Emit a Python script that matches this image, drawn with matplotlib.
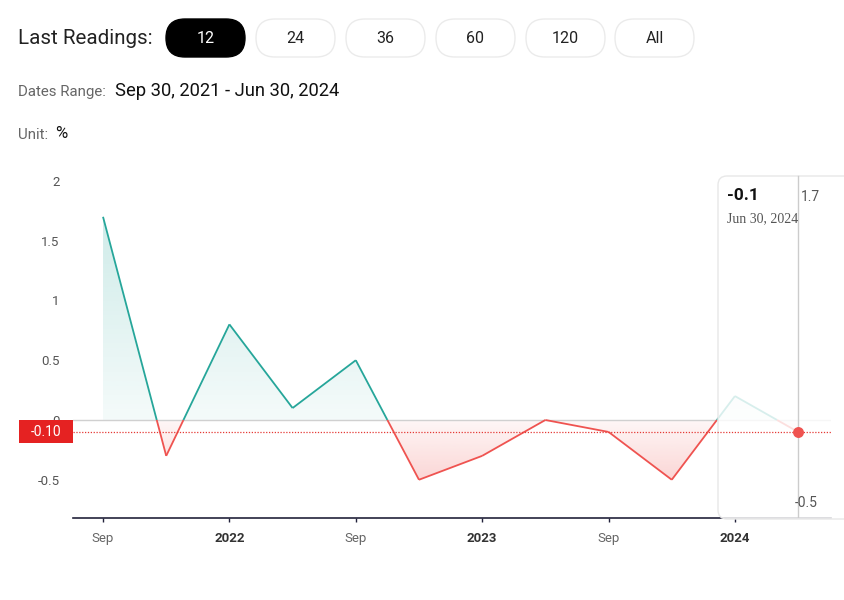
import matplotlib

matplotlib.use("Agg")
import matplotlib.pyplot as plt
import matplotlib.transforms as mtransforms
import numpy as np
from matplotlib.collections import LineCollection
from matplotlib.patches import FancyBboxPatch, Polygon, Rectangle

# Datos (lecturas trimestrales, %)
dates = ["Sep 30, 2021", "Dec 31, 2021", "Mar 31, 2022", "Jun 30, 2022",
         "Sep 30, 2022", "Dec 31, 2022", "Mar 31, 2023", "Jun 30, 2023",
         "Sep 30, 2023", "Dec 31, 2023", "Mar 31, 2024", "Jun 30, 2024"]
values = [1.7, -0.3, 0.8, 0.1, 0.5, -0.5, -0.3, 0.0, -0.1, -0.5, 0.2, -0.1]
tick_pos = [0, 2, 4, 6, 8, 10]
tick_labels = ["Sep", "2022", "Sep", "2023", "Sep", "2024"]
y_ticks = [-0.5, 0, 0.5, 1, 1.5, 2]
buttons = ["12", "24", "36", "60", "120", "All"]

GREEN = "#26a69a"
RED = "#ef5350"
W, H = 845, 600

plt.rcParams["font.family"] = ["Roboto", "DejaVu Sans"]

fig = plt.figure(figsize=(W / 100, H / 100), dpi=100, facecolor="white")

# capa de decoración en coordenadas de píxel
deco = fig.add_axes([0, 0, 1, 1], zorder=0)
deco.set_xlim(0, W)
deco.set_ylim(H, 0)
deco.axis("off")

# cabecera
deco.text(18, 38, "Last Readings:", fontsize=14.8, color="#222", va="center", ha="left")
for i, lab in enumerate(buttons):
    x0 = [166, 256, 346, 436, 526, 615][i]
    active = i == 0
    deco.add_patch(FancyBboxPatch((x0, 19), 79, 38,
                                  boxstyle="round,pad=0,rounding_size=19",
                                  fc="black" if active else "white",
                                  ec="black" if active else "#ebebeb", lw=1))
    deco.text(x0 + 39.5, 38.5, lab, fontsize=11.5, ha="center", va="center",
              color="white" if active else "#222")

deco.text(18, 92, "Dates Range:", fontsize=10.8, color="#666", va="center")
deco.text(115, 91, f"{dates[0]} - {dates[-1]}", fontsize=13.2, color="#111", va="center")
deco.text(18, 135, "Unit:", fontsize=10.8, color="#666", va="center")
deco.text(55, 134, "%", fontsize=12, color="#111", va="center")

# ejes principales
left, right, top, bottom = 73, 831, 169, 518
ax = fig.add_axes([left / W, 1 - bottom / H, (right - left) / W, (bottom - top) / H], zorder=1)
ax.patch.set_visible(False)

n = len(values)
xs, ys = [0.0], [values[0]]
for i in range(1, n):
    y0, y1 = values[i - 1], values[i]
    if y0 * y1 < 0:
        xs.append(i - 1 + y0 / (y0 - y1))
        ys.append(0.0)
    xs.append(float(i))
    ys.append(y1)
xs = np.array(xs)
ys = np.array(ys)

# relleno con degradado
def gradient_fill(yclip, color, a_far, a_near, ymin, ymax, far_top):
    verts = list(zip(xs, yclip)) + [(xs[-1], 0), (xs[0], 0)]
    poly = Polygon(verts, closed=True, fc="none", ec="none")
    ax.add_patch(poly)
    rgb = matplotlib.colors.to_rgb(color)
    t = np.linspace(0, 1, 256)[:, None]
    alpha = a_near + (a_far - a_near) * (t if far_top else 1 - t)
    img = np.zeros((256, 1, 4))
    img[..., :3] = rgb
    img[..., 3] = alpha
    im = ax.imshow(img, extent=[xs[0], xs[-1], ymin, ymax], origin="lower",
                   aspect="auto", zorder=1, interpolation="bilinear")
    im.set_clip_path(poly)

gradient_fill(np.maximum(ys, 0), GREEN, 0.22, 0.05, 0, max(values), True)
gradient_fill(np.minimum(ys, 0), RED, 0.24, 0.05, min(values), 0, False)

segs, cols = [], []
for j in range(len(xs) - 1):
    segs.append([(xs[j], ys[j]), (xs[j + 1], ys[j + 1])])
    cols.append(GREEN if (ys[j] + ys[j + 1]) / 2 >= 0 else RED)
ax.add_collection(LineCollection(segs, colors=cols, linewidths=1.3, zorder=2))

ax.axhline(0, color="#d0d0d0", lw=1, zorder=1.5)

ax.set_xlim(-0.475, 11.52)
ax.set_ylim(-0.82, 2.10)

for s in ["top", "right", "left"]:
    ax.spines[s].set_visible(False)
ax.spines["bottom"].set_color("#22223b")
ax.spines["bottom"].set_linewidth(1.2)

ax.set_yticks(y_ticks)
ax.set_yticklabels([f"{v:g}" for v in y_ticks])
ax.tick_params(axis="y", length=0, pad=9.5, labelsize=9.5, labelcolor="#555")
ax.set_xticks(tick_pos)
ax.set_xticklabels(tick_labels)
ax.tick_params(axis="x", length=3, width=1, color="#22223b", pad=7, labelsize=9.5)
for lab in ax.get_xticklabels():
    if lab.get_text().isdigit():
        lab.set_fontweight("bold")
        lab.set_color("#333")
    else:
        lab.set_color("#666")

# tooltip
tip = FancyBboxPatch((718, 176), 150, 343, boxstyle="round,pad=0,rounding_size=9",
                     fc=(1, 1, 1, 0.82), ec="#e8e8e8", lw=1, transform=deco.transData,
                     zorder=3)
tip.set_clip_on(False)
ax.add_artist(tip)
ax.axvline(n - 1, ymin=0, ymax=(bottom - 176) / (bottom - top), color="#cccccc", lw=1, zorder=4)

last = values[-1]
ax.axhline(last, color="#e53935", lw=0.9, ls=(0, (1, 1.3)), zorder=5)
ax.scatter([n - 1], [last], s=62, color=RED, zorder=6, clip_on=False, linewidths=0)

ax.text(727, 196, f"{last:g}", fontsize=12.5, fontweight="bold", color="#111",
        va="center", ha="left", transform=deco.transData, zorder=7)
ax.text(801, 197, f"{max(values):g}", fontsize=10, color="#555",
        va="center", ha="left", transform=deco.transData, zorder=7)
ax.text(727, 219, dates[-1], fontsize=10, color="#555", family="Liberation Serif",
        va="center", ha="left", transform=deco.transData, zorder=7)
ax.text(818, 503, f"{min(values):g}", fontsize=10, color="#555",
        va="center", ha="right", transform=deco.transData, zorder=7)

# etiqueta del último valor
blend = mtransforms.blended_transform_factory(deco.transData, ax.transData)
box = Rectangle((19, last - 0.096), 54, 0.192, fc="#e52222", ec="none",
                transform=blend, zorder=8)
box.set_clip_on(False)
ax.add_artist(box)
ax.text(46, last, f"{last:.2f}", fontsize=10, color="white", ha="center", va="center",
        transform=blend, zorder=9, clip_on=False)

fig.savefig("out.png", dpi=100, facecolor="white")
plt.close(fig)
